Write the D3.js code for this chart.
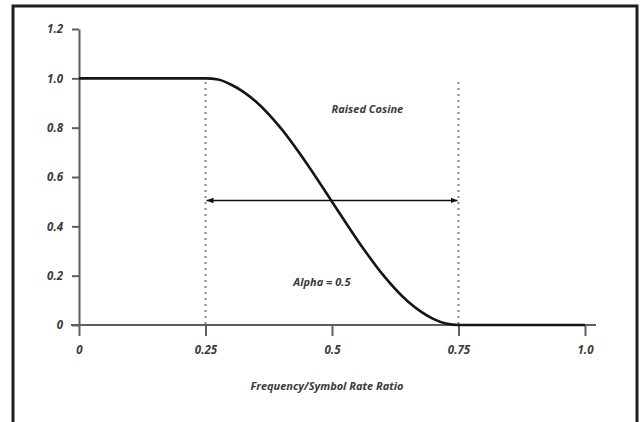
<!DOCTYPE html>
<html>
<head>
<meta charset="utf-8">
<script src="https://cdn.jsdelivr.net/npm/d3@7"></script>
<style>
  body { margin: 0; background: #fff; }
  svg text { font-family: "Open Sans", "DejaVu Sans", sans-serif; font-style: italic; font-weight: 700; fill: #3a3a3a; }
</style>
</head>
<body>
<svg id="chart"></svg>
<script>
// values
const freq = [0, 0.25, 0.275, 0.30, 0.35, 0.40, 0.45, 0.50, 0.55, 0.60, 0.65, 0.70, 0.725, 0.75, 1.0];
const gain = [1.0, 1.0, 0.995, 0.975, 0.905, 0.795, 0.655, 0.50, 0.345, 0.205, 0.095, 0.025, 0.006, 0, 0];
const xTicks = [0, 0.25, 0.5, 0.75, 1.0];
const xTickLabels = ["0", "0.25", "0.5", "0.75", "1.0"];
const yTicks = [0, 0.2, 0.4, 0.6, 0.8, 1.0, 1.2];
const yTickLabels = ["0", "0.2", "0.4", "0.6", "0.8", "1.0", "1.2"];
const markers = [0.25, 0.75];   // dotted lines
const arrowLevel = 0.505;
const markerTop = 0.985;

const width = 643, height = 422;
const margin = { top: 29, right: 58, bottom: 97, left: 79 };

const svg = d3.select("#chart").attr("width", width).attr("height", height);

// frame round the figure
svg.append("rect")
    .attr("x", 13).attr("y", 6)
    .attr("width", 624).attr("height", 440)
    .attr("fill", "#fff")
    .attr("stroke", "#1e1e1e")
    .attr("stroke-width", 3);

const x = d3.scaleLinear().domain([0, 1]).range([margin.left, width - margin.right]);
const y = d3.scaleLinear().domain([0, 1.2]).range([height - margin.bottom, margin.top]);

const defs = svg.append("defs");
["start", "end"].forEach(k => {
    defs.append("marker")
        .attr("id", "arrow-" + k)
        .attr("viewBox", "0 0 10 10")
        .attr("refX", 10).attr("refY", 5)
        .attr("markerWidth", 7).attr("markerHeight", 7)
        .attr("markerUnits", "userSpaceOnUse")
        .attr("orient", k === "end" ? "auto" : "auto-start-reverse")
        .append("path")
        .attr("d", "M0,1L10,5L0,9Z")
        .attr("fill", "#111");
});

// y axis
const yAxis = svg.append("g")
    .attr("transform", `translate(${x(0)},0)`)
    .call(d3.axisLeft(y)
        .tickValues(yTicks)
        .tickFormat((d, i) => yTickLabels[i])
        .tickSize(7)
        .tickSizeOuter(0)
        .tickPadding(9));
yAxis.select(".domain").attr("stroke", "#5e5e5e").attr("stroke-width", 2);
yAxis.selectAll(".tick line").attr("stroke", "#5e5e5e").attr("stroke-width", 2);
yAxis.selectAll("text").style("font-size", "11.5px");

// x axis
const xAxis = svg.append("g")
    .attr("transform", `translate(0,${y(0)})`)
    .call(d3.axisBottom(x)
        .tickValues(xTicks)
        .tickFormat((d, i) => xTickLabels[i])
        .tickSize(11)
        .tickSizeOuter(0)
        .tickPadding(10));
xAxis.select(".domain")
    .attr("d", `M${x(0) - 8},0H${x(1) + 11}`)
    .attr("stroke", "#5e5e5e").attr("stroke-width", 2);
xAxis.selectAll(".tick line").attr("stroke", "#5e5e5e").attr("stroke-width", 2);
xAxis.selectAll("text").style("font-size", "11.5px");

// dotted markers
svg.append("g").selectAll("line")
    .data(markers)
    .join("line")
    .attr("x1", d => x(d)).attr("x2", d => x(d))
    .attr("y1", y(markerTop)).attr("y2", y(0))
    .attr("stroke", "#888")
    .attr("stroke-width", 2)
    .attr("stroke-dasharray", "2,4");

// curve
const pts = freq.map((f, i) => [f, gain[i]]);
svg.append("path")
    .datum(pts)
    .attr("d", d3.line().x(d => x(d[0])).y(d => y(d[1])).curve(d3.curveMonotoneX))
    .attr("fill", "none")
    .attr("stroke", "#151515")
    .attr("stroke-width", 2.6);

// double arrow
svg.append("line")
    .attr("x1", x(markers[0]) + 1).attr("x2", x(markers[1]) - 1)
    .attr("y1", y(arrowLevel)).attr("y2", y(arrowLevel))
    .attr("stroke", "#111")
    .attr("stroke-width", 1.5)
    .attr("marker-start", "url(#arrow-start)")
    .attr("marker-end", "url(#arrow-end)");

// labels
svg.append("text")
    .attr("x", x(0.57)).attr("y", y(0.86))
    .attr("text-anchor", "middle")
    .style("font-size", "11px")
    .text("Raised Cosine");

svg.append("text")
    .attr("x", x(0.48)).attr("y", y(0.16))
    .attr("text-anchor", "middle")
    .style("font-size", "11px")
    .text("Alpha = 0.5");

svg.append("text")
    .attr("x", x(0.49)).attr("y", 390)
    .attr("text-anchor", "middle")
    .style("font-size", "11px")
    .text("Frequency/Symbol Rate Ratio");
</script>
</body>
</html>
